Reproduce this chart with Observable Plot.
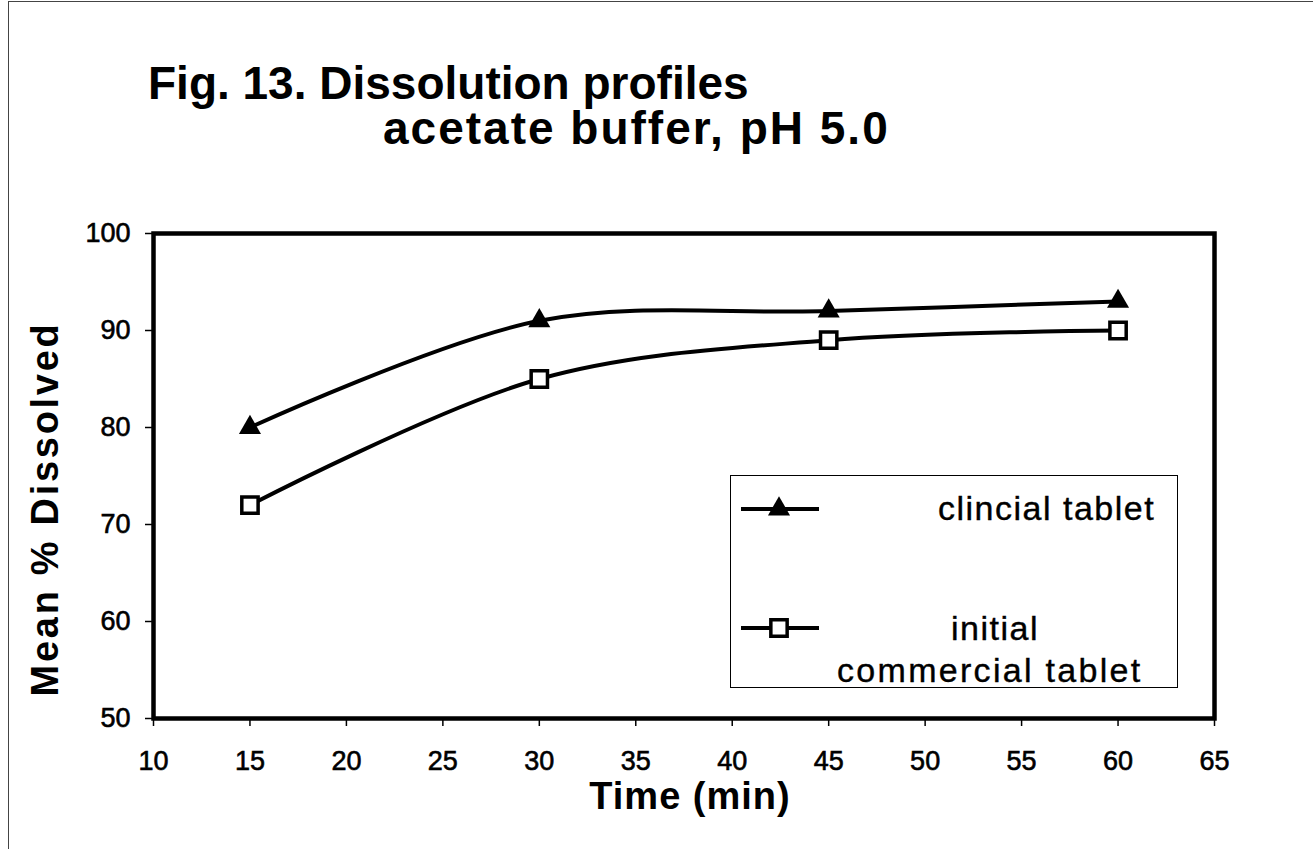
<!DOCTYPE html>
<html>
<head>
<meta charset="utf-8">
<script src="https://cdn.jsdelivr.net/npm/d3@7"></script>
<script src="https://cdn.jsdelivr.net/npm/@observablehq/plot@0.6"></script>
<style>
  html, body { margin: 0; padding: 0; background: #fff; }
  #fig { position: relative; width: 1313px; height: 849px; overflow: hidden; font-family: "Liberation Sans", Arial, sans-serif; color: #000; }
  #fig svg.plot { position: absolute; left: 0; top: 0; }
  #fig svg.plot g[aria-label="x-axis tick label"] text,
  #fig svg.plot g[aria-label="y-axis tick label"] text { paint-order: stroke; stroke: #000; stroke-width: 0.6px; }
  .title { position: absolute; font-weight: bold; font-size: 46px; white-space: nowrap; line-height: 1; }
  #legend { position: absolute; left: 730px; top: 475px; width: 446px; height: 211px; border: 1.5px solid #000; background: #fff; }
  #legend .lt { position: absolute; font-size: 34px; letter-spacing: 1.5px; white-space: nowrap; line-height: 1; -webkit-text-stroke: 0.4px #000; }
  #border { position: absolute; left: 8px; top: 1px; width: 1400px; height: 900px; border-left: 1px solid #444; border-top: 1px solid #444; pointer-events: none; }
</style>
</head>
<body>
<div id="fig">
  <div id="border"></div>
</div>
<script>
const times = [15, 30, 45, 60];
const clinical = [80, 91, 92, 93];
const commercial = [72, 85, 89, 90];
const seriesNames = ["clincial tablet", "initial commercial tablet"];
const xTicks = [10, 15, 20, 25, 30, 35, 40, 45, 50, 55, 60, 65];
const yTicks = [50, 60, 70, 80, 90, 100];
const titleLine1 = "Fig. 13. Dissolution profiles";
const titleLine2 = "acetate buffer, pH 5.0";
const xLabel = "Time (min)";
const yLabel = "Mean % Dissolved";

const rows = [];
times.forEach((t, i) => {
  rows.push({time: t, value: clinical[i], series: seriesNames[0]});
  rows.push({time: t, value: commercial[i], series: seriesNames[1]});
});
const clin = rows.filter(d => d.series === seriesNames[0]);
const comm = rows.filter(d => d.series === seriesNames[1]);

const chart = Plot.plot({
  width: 1313,
  height: 849,
  marginLeft: 153,
  marginRight: 99,
  marginTop: 233,
  marginBottom: 131,
  style: {fontFamily: "'Liberation Sans', Arial, sans-serif", background: "transparent", color: "#000"},
  x: {domain: [10, 65], ticks: xTicks},
  y: {domain: [50, 100], ticks: yTicks},
  marks: [
    Plot.axisX({ticks: xTicks, tickSize: 8, tickPadding: 24, fontSize: 27, label: null, strokeWidth: 1.5}),
    Plot.axisY({ticks: yTicks, tickSize: 8, tickPadding: 15, fontSize: 27, label: null, strokeWidth: 1.5}),
    Plot.line(clin, {x: "time", y: "value", curve: "catmull-rom", stroke: "#000", strokeWidth: 4}),
    Plot.line(comm, {x: "time", y: "value", curve: "catmull-rom", stroke: "#000", strokeWidth: 4}),
    Plot.dot(clin, {x: "time", y: "value", symbol: "triangle", r: 8.2, fill: "#000", stroke: "none"}),
    Plot.dot(comm, {x: "time", y: "value", symbol: "square", r: 9.2, fill: "#fff", stroke: "#000", strokeWidth: 3.5}),
    Plot.frame({stroke: "#000", strokeWidth: 4.5}),
    Plot.text([xLabel], {frameAnchor: "bottom", dx: 6, dy: 64, text: d => d, fontSize: 38, fontWeight: "bold", lineAnchor: "top"}),
    Plot.text([yLabel], {frameAnchor: "left", textAnchor: "middle", dx: -108, dy: 33, rotate: -90, text: d => d, fontSize: 38, fontWeight: "bold"})
  ]
});
chart.classList.add("plot");
chart.querySelectorAll("text").forEach(t => {
  if (t.textContent === yLabel) t.style.letterSpacing = "2.7px";
  if (t.textContent === xLabel) t.style.letterSpacing = "1px";
});
const fig = document.getElementById("fig");
fig.appendChild(chart);

// Titles
const t1 = document.createElement("div");
t1.className = "title"; t1.textContent = titleLine1;
t1.style.left = "148px"; t1.style.top = "60px";
fig.appendChild(t1);
const t2 = document.createElement("div");
t2.className = "title"; t2.textContent = titleLine2;
t2.style.left = "383px"; t2.style.top = "105px"; t2.style.letterSpacing = "2px";
fig.appendChild(t2);

// Legend
const lg = document.createElement("div");
lg.id = "legend";
const ns = "http://www.w3.org/2000/svg";
const ls = document.createElementNS(ns, "svg");
ls.setAttribute("width", 446); ls.setAttribute("height", 211);
ls.style.position = "absolute"; ls.style.left = "0"; ls.style.top = "0";
function seg(y) {
  const l = document.createElementNS(ns, "line");
  l.setAttribute("x1", 10); l.setAttribute("x2", 88);
  l.setAttribute("y1", y); l.setAttribute("y2", y);
  l.setAttribute("stroke", "#000"); l.setAttribute("stroke-width", 4);
  ls.appendChild(l);
}
seg(33); seg(152);
const tri = document.createElementNS(ns, "path");
tri.setAttribute("d", d3.symbol(d3.symbolTriangle, Math.PI * 8.2 * 8.2)());
tri.setAttribute("transform", "translate(48,33)");
tri.setAttribute("fill", "#000");
ls.appendChild(tri);
const sq = document.createElementNS(ns, "path");
sq.setAttribute("d", d3.symbol(d3.symbolSquare, Math.PI * 9.2 * 9.2)());
sq.setAttribute("transform", "translate(48,152)");
sq.setAttribute("fill", "#fff"); sq.setAttribute("stroke", "#000"); sq.setAttribute("stroke-width", 3.5);
ls.appendChild(sq);
lg.appendChild(ls);
function ltext(txt, left, top, spacing) {
  const s = document.createElement("div");
  s.className = "lt"; s.textContent = txt;
  s.style.left = left + "px"; s.style.top = top + "px";
  if (spacing != null) s.style.letterSpacing = spacing + "px";
  lg.appendChild(s);
}
ltext(seriesNames[0], 207, 15);
ltext("initial", 220, 135);
ltext("commercial tablet", 106, 177, 2.3);
fig.appendChild(lg);
</script>
</body>
</html>
